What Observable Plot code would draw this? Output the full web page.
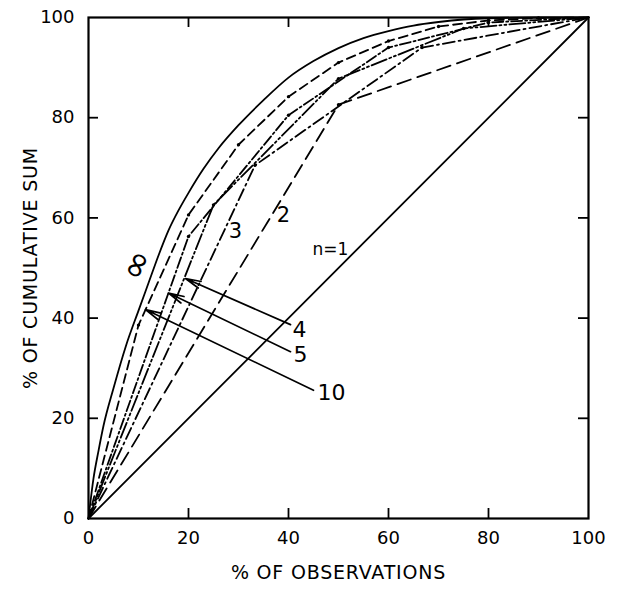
<!DOCTYPE html>
<html>
<head>
<meta charset="utf-8">
<script src="https://cdn.jsdelivr.net/npm/d3@7"></script>
<script src="https://cdn.jsdelivr.net/npm/@observablehq/plot@0.6"></script>
<style>
  html, body { margin: 0; padding: 0; background: #fff; }
  #chart { width: 617px; height: 590px; }
</style>
</head>
<body>
<div id="chart"></div>
<script>
// ---- data ----
const obsInf = [0, 1, 2, 3, 5, 7.5, 10, 12, 14, 16, 18, 20, 23, 26, 30, 35, 40, 45, 50, 55, 60, 65, 70, 75, 80, 90, 100];
const sumInf = [0, 8, 13.5, 18.5, 26, 34.5, 41.5, 47, 52.5, 57.5, 61.5, 65, 69.8, 73.9, 78.5, 83.5, 88, 91.3, 93.9, 95.9, 97.3, 98.4, 99.1, 99.6, 99.85, 100, 100];

const obs10 = [0, 10, 20, 30, 40, 50, 60, 70, 80, 90, 100];
const sum10 = [0, 38.6, 60.6, 74.6, 84.2, 91, 95.3, 98.2, 99.4, 99.9, 100];

const obs5 = [0, 20, 40, 60, 80, 100];
const sum5 = [0, 56.3, 80.5, 94, 99, 100];

const obs4 = [0, 25, 50, 75, 100];
const sum4 = [0, 62.6, 87.8, 97.8, 100];

const obs3 = [0, 33.3, 66.7, 100];
const sum3 = [0, 70.5, 94, 100];

const obs2 = [0, 50, 100];
const sum2 = [0, 82.6, 100];

const obs1 = [0, 100];
const sum1 = [0, 100];

const xTicks = [0, 20, 40, 60, 80, 100];
const yTicks = [0, 20, 40, 60, 80, 100];
const innerTicks = [20, 40, 60, 80];

const curveLabels = ["∞", "3", "2", "n=1"];
const curveLabelX = [9.6, 29.4, 39, 48.4];
const curveLabelY = [50.6, 57.3, 60.6, 53.6];

const arrowLabels = ["4", "5", "10"];
const arrowTipX = [19.4, 16, 11.4];
const arrowTipY = [47.9, 45, 41.7];
const arrowTailX = [40.4, 40.4, 45];
const arrowTailY = [38.7, 33.3, 25.6];
const arrowLabelX = [42.2, 42.4, 48.6];
const arrowLabelY = [37.6, 32.6, 25];

const xTitle = "% OF OBSERVATIONS";
const yTitle = "% OF CUMULATIVE SUM";

// ---- build tables ----
const toPts = (xs, ys) => xs.map((x, i) => ({x, y: ys[i]}));
const series = [
  {pts: toPts(obsInf, sumInf), dash: null, curve: "monotone-x"},
  {pts: toPts(obs10, sum10), dash: "9,5", curve: "linear", dots: true},
  {pts: toPts(obs5, sum5), dash: "11,3,2,3", curve: "linear", dots: true},
  {pts: toPts(obs4, sum4), dash: "16,3,2,3,2,3", curve: "linear", dots: true},
  {pts: toPts(obs3, sum3), dash: "12,4,2,4", curve: "linear", dots: true},
  {pts: toPts(obs2, sum2), dash: "14,7", curve: "linear", dots: true},
  {pts: toPts(obs1, sum1), dash: null, curve: "linear"}
];
const curveLab = curveLabels.map((t, i) => ({t, x: curveLabelX[i], y: curveLabelY[i]}));
const arrows = arrowLabels.map((t, i) => ({
  t, x1: arrowTailX[i], y1: arrowTailY[i], x2: arrowTipX[i], y2: arrowTipY[i],
  lx: arrowLabelX[i], ly: arrowLabelY[i]
}));

const font = "DejaVu Sans";
const marks = [];
for (const s of series) {
  marks.push(Plot.line(s.pts, {x: "x", y: "y", stroke: "black", strokeWidth: 1.8,
    strokeDasharray: s.dash ?? undefined, curve: s.curve}));
  if (s.dots) {
    marks.push(Plot.dot(s.pts.slice(1, -1), {x: "x", y: "y", r: 1.7, fill: "black"}));
  }
}
marks.push(
  Plot.arrow(arrows, {x1: "x1", y1: "y1", x2: "x2", y2: "y2", stroke: "black",
    strokeWidth: 1.7, headLength: 14, headAngle: 26}),
  Plot.text(arrows, {x: "lx", y: "ly", text: "t", fontSize: 22, fill: "black"}),
  Plot.text(curveLab.filter(d => d.t !== "∞"), {x: "x", y: "y", text: "t",
    fontSize: (d) => d.t === "n=1" ? 17 : 21, fill: "black"}),
  Plot.text(curveLab.filter(d => d.t === "∞"), {x: "x", y: "y", text: "t",
    fontSize: 36, rotate: -65, fill: "black"}),
  Plot.frame({stroke: "black", strokeWidth: 2.2}),
  Plot.ruleX(innerTicks, {x: d => d, y1: () => 0, y2: () => 2, stroke: "black", strokeWidth: 1.8}),
  Plot.ruleX(innerTicks, {x: d => d, y1: () => 98, y2: () => 100, stroke: "black", strokeWidth: 1.8}),
  Plot.ruleY(innerTicks, {y: d => d, x1: () => 0, x2: () => 2, stroke: "black", strokeWidth: 1.8}),
  Plot.ruleY(innerTicks, {y: d => d, x1: () => 98, x2: () => 100, stroke: "black", strokeWidth: 1.8}),
  Plot.axisX({ticks: xTicks, tickSize: 0, tickPadding: 13, fontSize: 18, label: null}),
  Plot.axisY({ticks: yTicks, tickSize: 0, tickPadding: 14, fontSize: 18, label: null}),
  Plot.text([xTitle], {text: d => d, frameAnchor: "bottom", dy: 60, fontSize: 19, fill: "black"}),
  Plot.text([yTitle], {text: d => d, frameAnchor: "left", dx: -58, rotate: -90, textAnchor: "middle", fontSize: 19, fill: "black"})
);

const chart = Plot.plot({
  width: 617,
  height: 590,
  marginLeft: 88,
  marginRight: 29,
  marginTop: 17,
  marginBottom: 72,
  x: {domain: [0, 100]},
  y: {domain: [0, 100]},
  style: {fontFamily: font, color: "black", background: "white", overflow: "visible"},
  marks
});
document.getElementById("chart").appendChild(chart);
// slight letter spacing on the axis titles, as in the reference
d3.select(chart).selectAll("text").filter(function () {
  const t = this.textContent;
  return t === xTitle || t === yTitle;
}).attr("letter-spacing", "0.8");
</script>
</body>
</html>
